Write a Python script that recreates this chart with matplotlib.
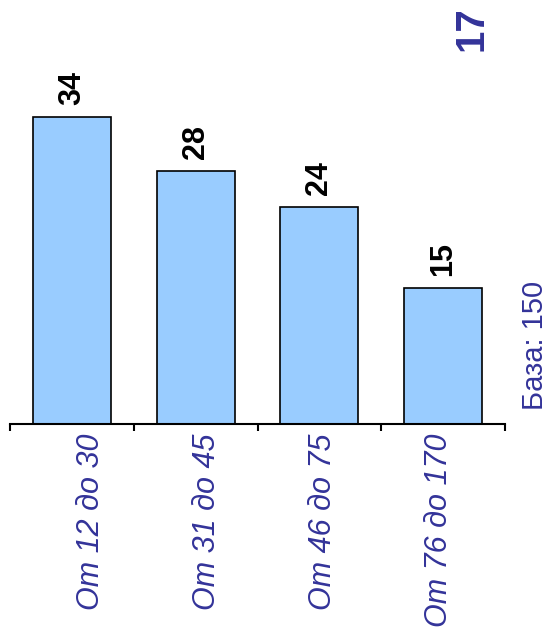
import matplotlib.pyplot as plt
from matplotlib import transforms
import numpy as np

plt.rcParams['font.family'] = ['Liberation Sans', 'DejaVu Sans']

categories = ["От 12 до 30", "От 31 до 45", "От 46 до 75", "От 76 до 170"]
values = [34, 28, 24, 15]
base_text = "База: 150"
page_no = "17"

blue = "#333399"
bar_color = "#99CCFF"

fig = plt.figure(figsize=(5.48, 6.28), dpi=100)
ax = fig.add_axes([10 / 548, 204 / 628, 495 / 548, 361.6 / 628])

x = np.arange(len(categories))
ax.bar(x, values, width=0.63, color=bar_color, edgecolor="black", linewidth=1.2, zorder=2)

ax.set_xlim(-0.5, len(categories) - 0.5)
ax.set_ylim(0, 40)

# подписи значений над столбиками
for xi, v in zip(x, values):
    ax.annotate(str(v), (xi, v), xytext=(0, 12), textcoords="offset pixels",
                rotation=90, ha="center", va="bottom",
                fontsize=22, fontweight="bold", color="black")

for s in ["top", "right", "left"]:
    ax.spines[s].set_visible(False)
ax.spines["bottom"].set_linewidth(1.5)
ax.set_yticks([])
ax.set_xticks(np.arange(len(categories) + 1) - 0.5)
ax.set_xticklabels([])
ax.tick_params(axis="x", direction="out", length=5, width=1.5)

# подписи категорий (шаг чуть меньше шага столбиков)
trans = transforms.blended_transform_factory(ax.transData, ax.transAxes)
for xi, lab in zip(x, categories):
    ax.text(0.155 + 0.937 * xi, -0.025, lab, transform=trans, rotation=90,
            ha="center", va="top", fontsize=22, style="italic", color=blue)

fig.text(535 / 548, 218 / 628, base_text, rotation=90, ha="center", va="bottom",
         fontsize=21, color=blue)
fig.text(472 / 548, 622 / 628, page_no, rotation=90, ha="center", va="top",
         fontsize=29, fontweight="bold", color=blue)

fig.savefig("out.png", dpi=100)
